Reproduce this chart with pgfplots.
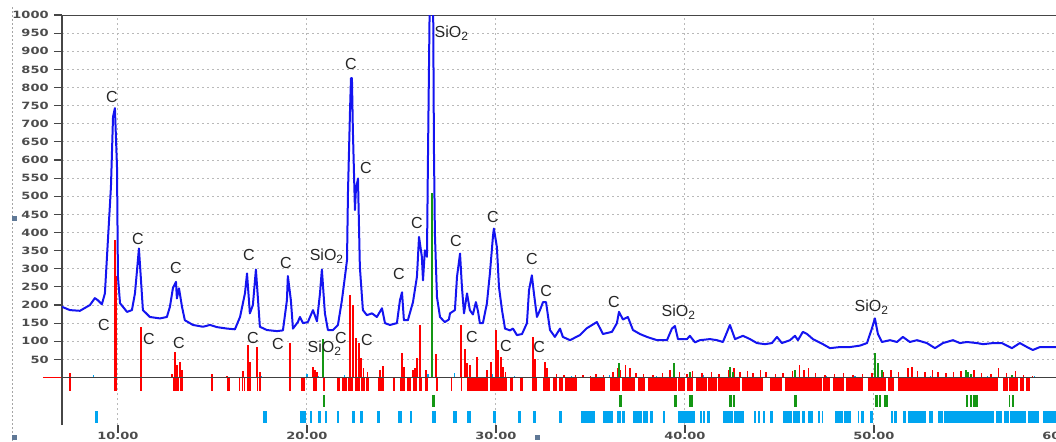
\documentclass[border=0pt]{standalone}
\usepackage{fontspec}
\setmainfont{Liberation Sans}
\newfontfamily\tickfont{DejaVu Sans}[FakeStretch=1.3]
\usepackage{pgfplots}
\usepackage{pgfplotstable}
\pgfplotsset{compat=1.18}

\definecolor{scanblue}{RGB}{20,20,240}
\definecolor{cred}{RGB}{255,0,0}
\definecolor{qgreen}{RGB}{20,150,20}
\definecolor{lblue}{RGB}{0,165,240}
\definecolor{gridgray}{RGB}{185,185,185}
\definecolor{axisgray}{RGB}{70,70,70}
\definecolor{uigray}{RGB}{95,120,150}

% measured pattern (2theta, counts)
\pgfplotstableread{
x y
7.04 195
7.46 186
7.99 184
8.52 200
8.78 219
8.94 213
9.15 202
9.31 232
9.47 379
9.63 526
9.74 719
9.84 743
9.95 581
10.00 278
10.11 205
10.48 181
10.74 186
10.90 232
11.01 296
11.11 356
11.22 268
11.32 186
11.69 167
12.22 163
12.59 167
12.75 195
12.91 247
13.07 264
13.12 218
13.23 246
13.39 195
13.54 158
13.97 145
14.50 140
14.87 145
15.24 139
15.77 135
16.19 133
16.46 167
16.72 232
16.83 287
16.98 177
17.14 200
17.30 298
17.51 140
17.88 131
18.41 128
18.73 130
18.94 213
18.99 280
19.15 213
19.26 135
19.52 153
19.63 167
19.79 150
20.05 153
20.32 186
20.53 155
20.69 232
20.79 298
20.95 177
21.11 131
21.38 131
21.64 145
21.85 213
22.01 278
22.12 324
22.17 508
22.28 738
22.33 826
22.38 826
22.43 683
22.54 462
22.59 517
22.70 549
22.80 305
22.96 186
23.17 172
23.44 177
23.70 167
23.97 191
24.13 150
24.39 145
24.76 150
24.92 213
25.03 235
25.13 158
25.34 158
25.61 208
25.82 278
25.93 388
26.08 333
26.14 268
26.24 351
26.35 333
26.40 590
26.51 1100
26.67 1100
26.72 627
26.77 397
26.88 222
27.04 167
27.20 158
27.30 153
27.51 160
27.57 177
27.83 186
27.94 278
28.10 342
28.20 250
28.31 177
28.47 232
28.62 186
28.78 174
28.94 208
29.05 183
29.15 150
29.31 150
29.52 204
29.68 287
29.84 388
29.89 411
30.05 360
30.16 250
30.32 186
30.48 135
30.74 130
30.90 135
31.11 117
31.38 120
31.64 150
31.75 241
31.90 282
32.01 232
32.17 167
32.33 186
32.49 208
32.65 208
32.86 131
33.12 112
33.39 135
33.54 112
33.92 103
34.44 117
34.81 136
35.34 153
35.66 120
36.14 126
36.40 150
36.51 181
36.72 160
36.98 167
37.25 131
37.62 120
37.99 112
38.52 103
39.05 103
39.31 135
39.47 142
39.63 106
40.11 106
40.26 115
40.53 97
40.79 103
41.32 106
41.69 103
42.01 98
42.38 145
42.65 106
43.07 115
43.44 106
43.81 95
44.23 92
44.60 95
44.87 112
45.13 95
45.56 103
45.82 115
45.98 103
46.24 126
46.46 120
46.77 106
47.30 92
47.67 81
48.20 84
48.73 84
49.26 88
49.63 95
49.89 135
50.05 163
50.21 120
50.42 98
50.85 103
51.22 98
51.53 112
51.90 98
52.28 103
52.80 95
53.23 81
53.65 95
54.18 103
54.55 95
54.92 98
55.45 95
55.77 92
56.30 95
56.77 95
57.30 81
57.72 95
58.10 84
58.41 76
58.78 84
59.21 84
59.63 84
}\scan

% reference lines, phase C
\pgfplotstableread{
x y
7.46 12
9.84 380
9.92 280
11.22 139
12.85 10
13.02 71
13.12 34
13.28 43
13.39 20
14.97 10
15.77 4
16.61 18
16.88 89
16.98 43
17.35 84
17.51 14
19.10 95
20.32 29
20.42 22
20.53 15
22.28 228
22.43 200
22.59 110
22.75 95
22.85 55
23.00 25
23.20 15
23.86 20
24.02 32
25.03 68
25.13 30
25.61 20
25.71 25
25.82 54
25.98 145
26.30 20
26.83 65
28.15 145
28.36 80
28.47 40
28.62 35
29.00 57
29.52 20
29.73 43
30.00 131
30.10 76
30.26 57
30.37 30
30.50 15
31.96 112
32.06 50
32.60 43
32.70 25
33.20 10
33.60 8
34.20 6
34.60 8
35.00 5
35.30 10
35.70 7
36.20 15
36.45 25
36.60 20
36.85 35
37.10 25
37.40 12
37.80 10
38.30 8
38.80 12
39.20 20
39.70 15
40.10 10
40.40 18
40.90 12
41.40 15
41.80 10
42.30 20
42.60 25
42.90 15
43.30 18
43.60 12
44.00 20
44.30 15
44.80 10
45.20 12
45.70 18
46.05 35
46.30 22
46.55 27
46.90 12
47.40 8
47.90 10
48.40 12
48.90 8
49.40 10
49.90 12
50.50 15
50.90 20
51.30 15
51.80 25
52.00 30
52.30 18
52.70 15
53.10 20
53.40 15
53.80 12
54.20 15
54.60 18
55.00 15
55.30 20
55.70 12
56.20 10
56.60 25
57.00 12
57.50 18
57.90 8
58.40 5
}\phaseC

% reference lines, SiO2
\pgfplotstableread{
x y
20.85 105
26.64 510
36.51 40
39.42 40
40.26 15
42.38 30
42.55 15
45.82 22
50.05 68
50.21 40
50.42 20
54.87 20
55.00 15
55.15 10
57.30 8
}\quartz

% reference lines, third phase
\pgfplotstableread{
x y
8.70 8
17.60 5
20.00 10
20.60 5
22.00 8
23.20 5
24.00 8
26.40 10
26.80 8
27.80 12
29.00 8
29.80 10
31.00 5
32.00 5
34.00 5
36.00 6
38.50 5
41.00 6
44.00 5
47.50 5
49.00 4
53.00 5
56.00 4
58.50 4
}\third

\newcommand{\lbl}[3]{\node[font=\fontsize{8}{9}\selectfont, text=black!85] at (axis cs:#1,#2) {#3};}
\newcommand{\sio}{SiO\textsubscript{2}}

\begin{document}
\begin{tikzpicture}
\useasboundingbox (-31pt,-8pt) rectangle (497pt,212.5pt);
% window frame bits left of the plot
\draw[gray!70, dash pattern=on 1pt off 1pt, line width=0.4pt] (-25pt,-8pt) -- (-25pt,210pt);
\fill[uigray] (-24.75pt,102.25pt) rectangle ++(2.5pt,2.5pt);
\fill[uigray] (-24.75pt,-7.25pt) rectangle ++(2.5pt,2.5pt);
\fill[uigray] (236.25pt,-7.25pt) rectangle ++(2.5pt,2.5pt);
\draw[cred, line width=0.75pt] (-9.5pt,23.74pt) -- (0pt,23.74pt);
\begin{axis}[
  scale only axis,
  width=505.2pt, height=205pt,
  xmin=7.04, xmax=60.5, ymin=-131, ymax=1000,
  xtick={10,20,30,40,50,60},
  xticklabels={10.00,20.00,30.00,40.00,50.00,60.00},
  ytick={50,100,...,1000},
  xtick pos=left, ytick pos=left,
  tick align=outside,
  major tick length=4pt,
  tick style={axisgray, line width=0.6pt},
  grid=major,
  major grid style={gridgray, dash pattern=on 1pt off 1.5pt, line width=0.5pt},
  separate axis lines,
  x axis line style={draw=none},
  y axis line style={axisgray, line width=0.75pt},
  /pgf/number format/assume math mode=true,
  /pgf/number format/1000 sep={},
  ticklabel style={font=\tickfont\bfseries\fontsize{5}{6}\selectfont, text=black!70},
  yticklabel style={inner sep=0pt, xshift=-2.5pt},
  xticklabel style={inner sep=0pt, yshift=0.5pt},
  clip=true,
]
% sticks of the reference patterns
\addplot[ycomb, lblue, line width=0.6pt] table {\third};
\addplot[ycomb, cred, line width=0.75pt] table {\phaseC};
\addplot[ycomb, qgreen, line width=1pt] table {\quartz};
\draw[black!75, line width=0.5pt] (axis cs:7.04,0) -- (axis cs:60.5,0);
\draw[axisgray, line width=0.75pt] (rel axis cs:0,1) -- (rel axis cs:1,1);

% measured scan
\addplot[scanblue, line width=1pt, line join=round] table {\scan};

% peak position rows below the baseline
\addplot[cred, line width=6.5pt, unbounded coords=jump, forget plot] coordinates {
(7.43,-19.6) (7.51,-19.6) (7.5,nan)
(9.79,-19.6) (9.95,-19.6) (9.9,nan)
(11.16,-19.6) (11.27,-19.6) (11.2,nan)
(12.91,-19.6) (13.12,-19.6) (13.1,nan)
(13.15,-19.6) (13.23,-19.6) (13.2,nan)
(13.28,-19.6) (13.44,-19.6) (13.4,nan)
(14.92,-19.6) (15.03,-19.6) (15.0,nan)
(15.77,-19.6) (15.93,-19.6) (15.9,nan)
(16.40,-19.6) (16.46,-19.6) (16.45,nan)
(16.56,-19.6) (16.61,-19.6) (16.6,nan)
(16.67,-19.6) (16.72,-19.6) (16.7,nan)
(16.83,-19.6) (17.04,-19.6) (17.0,nan)
(17.35,-19.6) (17.41,-19.6) (17.4,nan)
(17.46,-19.6) (17.57,-19.6) (17.5,nan)
(19.05,-19.6) (19.15,-19.6) (19.1,nan)
(19.68,-19.6) (19.89,-19.6) (19.8,nan)
(20.32,-19.6) (20.53,-19.6) (20.5,nan)
(20.85,-19.6) (20.95,-19.6) (20.9,nan)
(21.59,-19.6) (21.75,-19.6) (21.7,nan)
(21.85,-19.6) (22.12,-19.6) (22.1,nan)
(22.17,-19.6) (22.43,-19.6) (22.4,nan)
(22.54,-19.6) (22.80,-19.6) (22.8,nan)
(22.86,-19.6) (23.07,-19.6) (23.1,nan)
(23.12,-19.6) (23.28,-19.6) (23.2,nan)
(23.76,-19.6) (24.07,-19.6) (24.0,nan)
(24.55,-19.6) (24.66,-19.6) (24.6,nan)
(24.92,-19.6) (25.19,-19.6) (25.2,nan)
(25.29,-19.6) (25.50,-19.6) (25.5,nan)
(25.61,-19.6) (25.82,-19.6) (25.8,nan)
(25.93,-19.6) (26.08,-19.6) (26.0,nan)
(26.24,-19.6) (26.40,-19.6) (26.3,nan)
(26.83,-19.6) (26.93,-19.6) (26.9,nan)
(27.62,-19.6) (27.67,-19.6) (27.65,nan)
(28.15,-19.6) (28.20,-19.6) (28.2,nan)
(28.47,-19.6) (29.58,-19.6) (29.6,nan)
(29.68,-19.6) (30.58,-19.6) (30.6,nan)
(30.74,-19.6) (30.90,-19.6) (30.8,nan)
(31.27,-19.6) (31.43,-19.6) (31.4,nan)
(31.90,-19.6) (32.17,-19.6) (32.1,nan)
(32.49,-19.6) (32.86,-19.6) (32.9,nan)
(33.02,-19.6) (33.23,-19.6) (33.2,nan)
(33.33,-19.6) (33.54,-19.6) (33.5,nan)
(33.65,-19.6) (34.29,-19.6) (34.3,nan)
(34.97,-19.6) (35.77,-19.6) (35.8,nan)
(36.03,-19.6) (36.56,-19.6) (36.6,nan)
(36.67,-19.6) (37.35,-19.6) (37.4,nan)
(37.51,-19.6) (37.88,-19.6) (37.9,nan)
(38.04,-19.6) (39.58,-19.6) (39.6,nan)
(39.63,-19.6) (40.00,-19.6) (40.0,nan)
(40.11,-19.6) (40.42,-19.6) (40.5,nan)
(40.58,-19.6) (41.16,-19.6) (41.2,nan)
(41.22,-19.6) (41.69,-19.6) (41.7,nan)
(41.75,-19.6) (42.91,-19.6) (42.9,nan)
(43.02,-19.6) (44.13,-19.6) (44.2,nan)
(44.50,-19.6) (45.13,-19.6) (45.2,nan)
(45.29,-19.6) (47.25,-19.6) (47.3,nan)
(47.30,-19.6) (47.67,-19.6) (47.7,nan)
(47.83,-19.6) (48.41,-19.6) (48.5,nan)
(48.52,-19.6) (49.42,-19.6) (49.5,nan)
(49.68,-19.6) (50.63,-19.6) (50.7,nan)
(50.74,-19.6) (51.06,-19.6) (51.1,nan)
(51.27,-19.6) (56.56,-19.6) (56.6,nan)
(56.83,-19.6) (57.09,-19.6) (57.1,nan)
(57.14,-19.6) (57.62,-19.6) (57.7,nan)
(57.72,-19.6) (57.94,-19.6) (58.0,nan)
(58.04,-19.6) (58.25,-19.6)
};
\addplot[qgreen, line width=6pt, unbounded coords=jump, forget plot] coordinates {
(20.85,-65) (20.95,-65) (20.9,nan)
(26.61,-65) (26.77,-65) (26.7,nan)
(36.51,-65) (36.67,-65) (36.6,nan)
(39.42,-65) (39.58,-65) (39.5,nan)
(40.21,-65) (40.42,-65) (40.3,nan)
(42.33,-65) (42.49,-65) (42.5,nan)
(42.54,-65) (42.65,-65) (42.6,nan)
(45.77,-65) (45.93,-65) (45.9,nan)
(50.05,-65) (50.21,-65) (50.2,nan)
(50.26,-65) (50.37,-65) (50.4,nan)
(50.53,-65) (50.74,-65) (50.7,nan)
(54.87,-65) (54.97,-65) (55.0,nan)
(55.08,-65) (55.19,-65) (55.2,nan)
(55.24,-65) (55.50,-65) (55.5,nan)
(57.14,-65) (57.20,-65) (57.2,nan)
(57.30,-65) (57.41,-65)
};
\addplot[lblue, line width=6pt, unbounded coords=jump, forget plot] coordinates {
(8.78,-109) (8.94,-109) (8.9,nan)
(17.67,-109) (17.88,-109) (17.8,nan)
(19.63,-109) (19.95,-109) (19.9,nan)
(20.16,-109) (20.26,-109) (20.2,nan)
(20.58,-109) (20.74,-109) (20.7,nan)
(20.95,-109) (21.06,-109) (21.0,nan)
(21.59,-109) (21.69,-109) (21.65,nan)
(22.38,-109) (22.54,-109) (22.5,nan)
(22.80,-109) (22.96,-109) (22.9,nan)
(23.70,-109) (23.86,-109) (23.8,nan)
(24.81,-109) (25.03,-109) (25.0,nan)
(25.45,-109) (25.56,-109) (25.5,nan)
(26.61,-109) (26.83,-109) (26.8,nan)
(27.72,-109) (27.94,-109) (27.9,nan)
(28.47,-109) (28.68,-109) (28.6,nan)
(29.84,-109) (30.00,-109) (30.0,nan)
(31.16,-109) (31.32,-109) (31.3,nan)
(31.96,-109) (32.12,-109) (32.1,nan)
(33.33,-109) (33.49,-109) (33.4,nan)
(34.50,-109) (35.24,-109) (35.3,nan)
(35.66,-109) (36.19,-109) (36.3,nan)
(36.40,-109) (36.61,-109) (36.65,nan)
(36.67,-109) (36.83,-109) (36.9,nan)
(37.25,-109) (37.72,-109) (37.75,nan)
(37.78,-109) (38.04,-109) (38.1,nan)
(38.15,-109) (38.31,-109) (38.4,nan)
(38.84,-109) (38.94,-109) (38.9,nan)
(39.63,-109) (40.53,-109) (40.6,nan)
(40.79,-109) (40.90,-109) (40.92,nan)
(40.95,-109) (41.06,-109) (41.1,nan)
(41.16,-109) (41.32,-109) (41.4,nan)
(42.01,-109) (42.54,-109) (42.56,nan)
(42.59,-109) (43.12,-109) (43.2,nan)
(43.65,-109) (43.76,-109) (43.8,nan)
(43.86,-109) (43.97,-109) (44.0,nan)
(44.13,-109) (44.23,-109) (44.3,nan)
(44.50,-109) (44.66,-109) (44.7,nan)
(45.19,-109) (45.66,-109) (45.68,nan)
(45.71,-109) (46.08,-109) (46.1,nan)
(46.19,-109) (46.35,-109) (46.4,nan)
(46.51,-109) (46.77,-109) (46.8,nan)
(47.04,-109) (47.14,-109) (47.2,nan)
(47.25,-109) (47.30,-109) (47.4,nan)
(47.94,-109) (48.36,-109) (48.38,nan)
(48.41,-109) (48.78,-109) (48.8,nan)
(49.15,-109) (49.21,-109) (49.25,nan)
(49.31,-109) (49.47,-109) (49.5,nan)
(49.79,-109) (49.95,-109) (50.0,nan)
(50.90,-109) (51.01,-109) (51.03,nan)
(51.06,-109) (51.22,-109) (51.3,nan)
(51.53,-109) (51.69,-109) (51.7,nan)
(51.80,-109) (52.75,-109) (52.8,nan)
(52.91,-109) (53.12,-109) (53.2,nan)
(53.39,-109) (53.65,-109) (53.67,nan)
(53.70,-109) (56.35,-109) (56.4,nan)
(56.46,-109) (56.77,-109) (56.8,nan)
(56.88,-109) (57.14,-109) (57.17,nan)
(57.20,-109) (58.04,-109) (58.1,nan)
(58.15,-109) (58.73,-109) (58.8,nan)
(58.94,-109) (59.63,-109)
};

% phase labels above the scan
\lbl{9.68}{774}{C}
\lbl{11.06}{382}{C}
\lbl{13.07}{301}{C}
\lbl{16.93}{338}{C}
\lbl{18.89}{316}{C}
\lbl{21.06}{335}{\sio}
\lbl{22.33}{865}{C}
\lbl{23.12}{578}{C}
\lbl{24.87}{285}{C}
\lbl{25.82}{426}{C}
\lbl{27.67}{950}{\sio}
\lbl{27.88}{376}{C}
\lbl{29.84}{443}{C}
\lbl{31.90}{327}{C}
\lbl{32.65}{238}{C}
\lbl{36.24}{208}{C}
\lbl{39.68}{180}{\sio}
\lbl{49.89}{194}{\sio}
% labels beside the reference lines
\lbl{9.26}{145}{C}
\lbl{11.64}{106}{C}
\lbl{13.23}{95}{C}
\lbl{17.14}{109}{C}
\lbl{18.47}{92}{C}
\lbl{20.95}{81}{\sio}
\lbl{21.80}{109}{C}
\lbl{23.17}{103}{C}
\lbl{28.73}{111}{C}
\lbl{30.53}{87}{C}
\lbl{32.28}{84}{C}
\end{axis}
\end{tikzpicture}
\end{document}
